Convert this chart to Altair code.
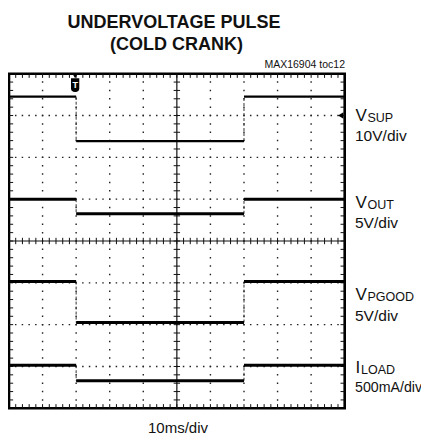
import altair as alt
import pandas as pd

# ---- data (units: divisions, x 0..10, y 0..8) ----
channels = ["VSUP", "VOUT", "VPGOOD", "ILOAD"]
level_high = [7.45, 5.00, 3.03, 1.03]
level_low = [6.39, 4.65, 2.05, 0.66]
t_fall = 2.0
t_rise = 7.0
x_divs = 10
y_divs = 8

labels_main = ["V", "V", "V", "I"]
labels_sub = ["SUP", "OUT", "PGOOD", "LOAD"]
labels_scale = ["10V/div", "5V/div", "5V/div", "500mA/div"]

W, H = 335.7, 334.6
FONT = "Liberation Sans"

xs = alt.Scale(domain=[0, x_divs], nice=False, zero=False)
ys = alt.Scale(domain=[0, y_divs], nice=False, zero=False)

# ---- grid ----
grid_v = pd.DataFrame({"x": [k for k in range(1, x_divs) if k != x_divs // 2]})
grid_h = pd.DataFrame({"y": [k for k in range(1, y_divs) if k != y_divs // 2]})
minor_x = [k / 5 for k in range(1, x_divs * 5)]
minor_y = [k / 5 for k in range(1, y_divs * 5)]

vdash = H / (y_divs * 5)
hdash = W / (x_divs * 5)

gv = alt.Chart(grid_v).mark_rule(color="#222", strokeWidth=1.4,
                                  strokeDash=[1.5, vdash - 1.5], strokeDashOffset=0.75).encode(
    x=alt.X("x:Q", scale=xs, axis=None))
gh = alt.Chart(grid_h).mark_rule(color="#222", strokeWidth=1.4,
                                  strokeDash=[1.5, hdash - 1.5], strokeDashOffset=0.75).encode(
    y=alt.Y("y:Q", scale=ys, axis=None))

cx = alt.Chart(pd.DataFrame({"x": [x_divs / 2]})).mark_rule(color="#111", strokeWidth=1.2).encode(
    x=alt.X("x:Q", scale=xs, axis=None))
cy = alt.Chart(pd.DataFrame({"y": [y_divs / 2]})).mark_rule(color="#111", strokeWidth=1.2).encode(
    y=alt.Y("y:Q", scale=ys, axis=None))

dy = 3.2 / (H / y_divs)
dx = 3.2 / (W / x_divs)
ticks_h = pd.DataFrame({
    "x": minor_x * 3,
    "y": [y_divs / 2 - dy] * len(minor_x) + [y_divs] * len(minor_x) + [0] * len(minor_x),
    "y2": [y_divs / 2 + dy] * len(minor_x) + [y_divs - 1.3 * dy] * len(minor_x) + [1.3 * dy] * len(minor_x),
})
ticks_v = pd.DataFrame({
    "y": minor_y * 3,
    "x": [x_divs / 2 - dx] * len(minor_y) + [0] * len(minor_y) + [x_divs] * len(minor_y),
    "x2": [x_divs / 2 + dx] * len(minor_y) + [1.3 * dx] * len(minor_y) + [x_divs - 1.3 * dx] * len(minor_y),
})
th = alt.Chart(ticks_h).mark_rule(color="#111", strokeWidth=1).encode(
    x=alt.X("x:Q", scale=xs, axis=None),
    y=alt.Y("y:Q", scale=ys, axis=None), y2="y2:Q")
tv = alt.Chart(ticks_v).mark_rule(color="#111", strokeWidth=1).encode(
    y=alt.Y("y:Q", scale=ys, axis=None),
    x=alt.X("x:Q", scale=xs, axis=None), x2="x2:Q")

# ---- traces ----
seg_rows = []
vert_rows = []
for ch, hi, lo in zip(channels, level_high, level_low):
    seg_rows += [
        {"ch": ch, "x": 0, "x2": t_fall, "y": hi},
        {"ch": ch, "x": t_fall, "x2": t_rise, "y": lo},
        {"ch": ch, "x": t_rise, "x2": x_divs, "y": hi},
    ]
    vert_rows += [
        {"ch": ch, "x": t_fall, "y": hi, "y2": lo},
        {"ch": ch, "x": t_rise, "y": lo, "y2": hi},
    ]
segs = pd.DataFrame(seg_rows)
verts = pd.DataFrame(vert_rows)

tr = alt.Chart(segs).mark_rule(color="#000").encode(
    x=alt.X("x:Q", scale=xs, axis=None), x2="x2:Q",
    y=alt.Y("y:Q", scale=ys, axis=None),
    strokeWidth=alt.condition(alt.datum.ch == "VSUP", alt.value(2.2), alt.value(3.0)))
tvv = alt.Chart(verts).mark_rule(color="#333", strokeWidth=1, strokeDash=[3, 2]).encode(
    x=alt.X("x:Q", scale=xs, axis=None),
    y=alt.Y("y:Q", scale=ys, axis=None), y2="y2:Q")

# ---- trigger marker and ground marker ----
one = pd.DataFrame({"a": [0]})
shield = "M -0.6 -1 L 0.6 -1 L 0.6 0.45 Q 0.6 1 0 1 Q -0.6 1 -0.6 0.45 Z"
trig = alt.Chart(one).mark_point(shape=shield, filled=True, color="#000", size=190, opacity=1,
                                 xOffset=-1).encode(
    x=alt.X(datum=t_fall, scale=xs), y=alt.value(11.5))
trig_arrow = alt.Chart(one).mark_point(shape="triangle-down", filled=True, color="#000", size=22,
                                       opacity=1, xOffset=-1).encode(
    x=alt.X(datum=t_fall, scale=xs), y=alt.value(2.5))
trig_t = alt.Chart(one).mark_text(text="T", color="white", font=FONT, fontSize=9, fontWeight="bold",
                                  baseline="middle", align="center", dx=-1).encode(
    x=alt.X(datum=t_fall, scale=xs), y=alt.value(11))
gnd = alt.Chart(one).mark_point(shape="triangle-left", filled=True, color="#000", size=40, opacity=1,
                                xOffset=-4).encode(
    x=alt.X(datum=x_divs, scale=xs), y=alt.Y(datum=7, scale=ys))

# ---- texts ----
def txt(s, x, y, size, weight="normal", align="left", font=FONT, color="#111"):
    return alt.Chart(one).mark_text(text=s, font=font, fontSize=size, fontWeight=weight,
                                    align=align, baseline="alphabetic", color=color).encode(
        x=alt.value(x), y=alt.value(y))

texts = [
    txt("UNDERVOLTAGE PULSE", 165, -45.4, 18, "bold", "center"),
    txt("(COLD CRANK)", 167.5, -23.7, 18, "bold", "center"),
    txt("MAX16904 toc12", 336, -5.5, 10.5, "normal", "right"),
    txt("10ms/div", 169, 359.5, 15, "normal", "center"),
]
main_y = [47.3, 134.3, 226.3, 299.3]
scale_y = [66.8, 154.3, 247.3, 318.3]
sub_dx = [12, 12, 12, 5.5]
scale_size = [15.5, 15.5, 15.5, 14.2]
for m, s, sc, my, sy, sdx, ss in zip(labels_main, labels_sub, labels_scale, main_y, scale_y, sub_dx, scale_size):
    texts.append(txt(m, 346.5, my, 17))
    texts.append(txt(s, 346.5 + sdx, my + 1, 12.5))
    texts.append(txt(sc, 346, sy, ss))

chart = alt.layer(gv, gh, cx, cy, th, tv, tvv, tr, trig_arrow, trig, trig_t, gnd, *texts).properties(
    width=W, height=H,
    padding={"left": 1, "top": 65.7, "right": 76.3, "bottom": 29.7},
    autosize=alt.AutoSizeParams(type="none"),
).configure_view(stroke="#000", strokeWidth=2.6)

chart.save("out.html", embed_options={"renderer": "svg", "actions": False})
